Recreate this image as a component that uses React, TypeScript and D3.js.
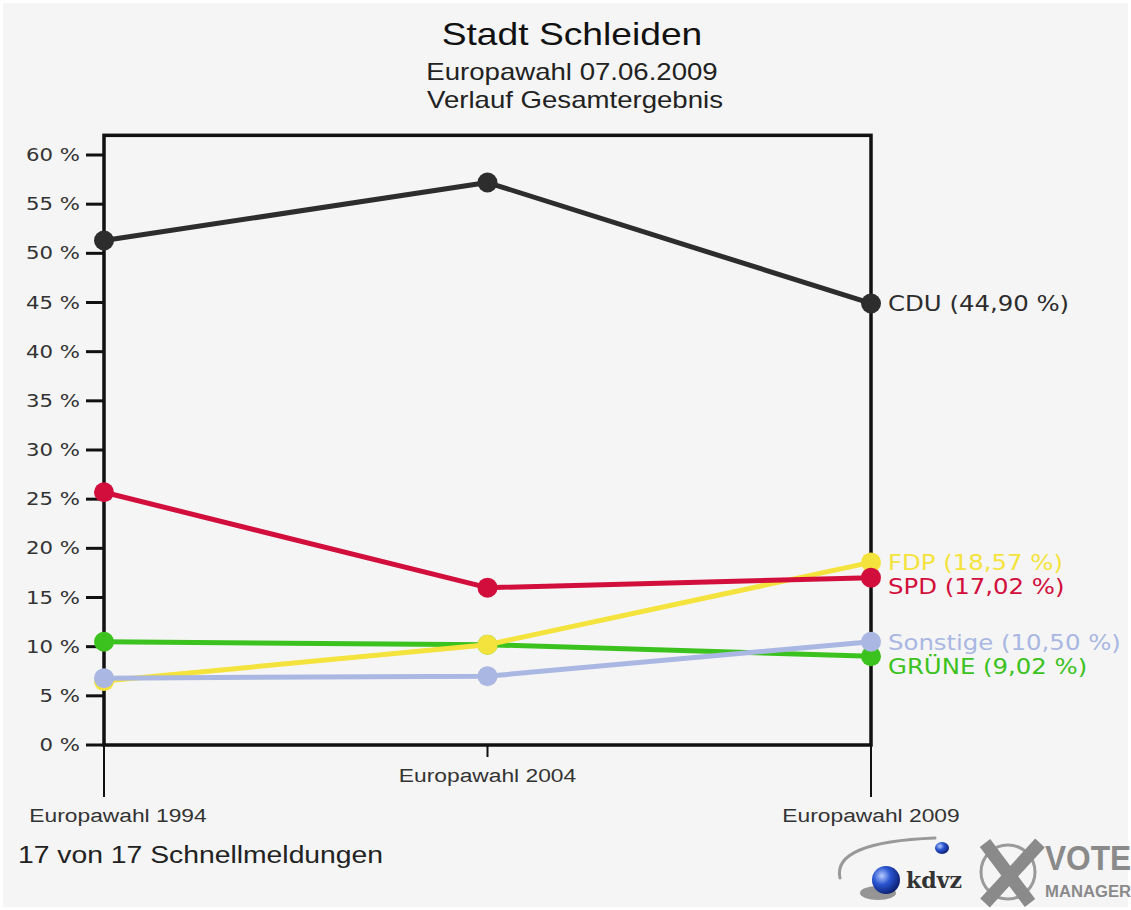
import React from "react";
import * as d3 from "d3";

// Wahlen (x-Achse)
const categories = ["Europawahl 1994", "Europawahl 2004", "Europawahl 2009"];

// Ergebnisse in Prozent, je Partei
const cduValues = [51.3, 57.2, 44.9];
const grueneValues = [10.5, 10.2, 9.02];
const fdpValues = [6.5, 10.2, 18.57];
const spdValues = [25.7, 16.0, 17.02];
const sonstigeValues = [6.8, 7.0, 10.5];

const partyNames = ["CDU", "GRÜNE", "FDP", "SPD", "Sonstige"];
const partyColors = ["#2d2d2d", "#3cc21e", "#f4e33c", "#d20f3c", "#a9b7e2"];

const yTicks = [0, 5, 10, 15, 20, 25, 30, 35, 40, 45, 50, 55, 60];

const W = 1131;
const H = 910;

// the original text is stretched horizontally
const STRETCH = 1.2;

const SText = ({ x, y, anchor = "start", size, family, fill = "#222", weight = "normal", sx = STRETCH, children }) => (
  <text
    transform={`translate(${x},${y}) scale(${sx},1)`}
    textAnchor={anchor}
    fontSize={size}
    fontFamily={family}
    fontWeight={weight}
    fill={fill}
  >
    {children}
  </text>
);

const SANS = "'Liberation Sans', Arial, sans-serif";
const DEJAVU = "'DejaVu Sans', Verdana, sans-serif";

export default function App() {
  const series = [cduValues, grueneValues, fdpValues, spdValues, sonstigeValues].map((values, i) => ({
    name: partyNames[i],
    color: partyColors[i],
    values,
  }));

  const x = d3.scalePoint().domain(categories).range([104, 871]);
  const y = d3.scaleLinear().domain([0, 60]).range([745, 155]);

  const line = d3
    .line<number>()
    .x((d, i) => x(categories[i]))
    .y((d) => y(d));

  // end labels, pushed down so they don't overlap
  const last = categories.length - 1;
  const labels = series
    .map((s) => ({ ...s, ly: y(s.values[last]) }))
    .sort((a, b) => a.ly - b.ly);
  for (let i = 1; i < labels.length; i++) {
    if (labels[i].ly - labels[i - 1].ly < 24) labels[i].ly = labels[i - 1].ly + 24;
  }

  const fmt = (v) => `${v.toFixed(2).replace(".", ",")} %`;

  const xLeft = x(categories[0]);
  const xRight = x(categories[last]);
  const yTop = y(62);
  const yBottom = y(0);

  return (
    <div>
      <style>{"body{margin:0}"}</style>
      <svg width={W} height={H} style={{ display: "block" }}>
        <defs>
          <radialGradient id="ball" cx="35%" cy="35%" r="70%">
            <stop offset="0%" stopColor="#b8ccff" />
            <stop offset="45%" stopColor="#2a55d0" />
            <stop offset="100%" stopColor="#0a1d6e" />
          </radialGradient>
        </defs>
        <rect x={0} y={0} width={W} height={H} fill="#ffffff" />
        <rect x={3} y={3} width={W - 6} height={H - 6} fill="#f5f5f5" />

        {/* title */}
        <SText x={572} y={45} anchor="middle" size={31} family={SANS} fill="#111">
          Stadt Schleiden
        </SText>
        <SText x={572} y={80} anchor="middle" size={23} family={SANS} fill="#222">
          Europawahl 07.06.2009
        </SText>
        <SText x={575} y={108} anchor="middle" size={23} family={SANS} fill="#222">
          Verlauf Gesamtergebnis
        </SText>

        {/* frame */}
        <rect
          x={xLeft}
          y={yTop}
          width={xRight - xLeft}
          height={yBottom - yTop}
          fill="none"
          stroke="#111"
          strokeWidth={3.5}
        />

        {/* y axis */}
        {yTicks.map((t) => (
          <g key={t}>
            <line x1={86} x2={xLeft} y1={y(t)} y2={y(t)} stroke="#111" strokeWidth={3} />
            <SText x={80} y={y(t) + 6} anchor="end" size={18} family={DEJAVU} fill="#333" sx={1.18}>
              {`${t} %`}
            </SText>
          </g>
        ))}

        {/* x axis */}
        {categories.map((c, i) => {
          const long = i === 0 || i === last;
          const cx = x(c);
          const labelX = i === 0 ? cx + 14 : cx;
          return (
            <g key={c}>
              <line x1={cx} x2={cx} y1={yBottom} y2={long ? 797 : 757} stroke="#111" strokeWidth={2} />
              <SText x={labelX} y={long ? 822 : 782} anchor="middle" size={19} family={SANS} fill="#333">
                {c}
              </SText>
            </g>
          );
        })}

        {/* lines and markers */}
        {series.map((s) => (
          <g key={s.name}>
            <path d={line(s.values)} fill="none" stroke={s.color} strokeWidth={5} strokeLinejoin="round" />
            {s.values.map((v, i) => (
              <circle key={i} cx={x(categories[i])} cy={y(v)} r={10} fill={s.color} />
            ))}
          </g>
        ))}

        {/* end labels */}
        {labels.map((l) => (
          <SText key={l.name} x={888} y={l.ly + 8} size={20.5} family={DEJAVU} fill={l.color} sx={1.19}>
            {`${l.name} (${fmt(l.values[last])})`}
          </SText>
        ))}

        <SText x={18} y={863} size={24} family={SANS} fill="#222" sx={1.18}>
          17 von 17 Schnellmeldungen
        </SText>

        {/* logos */}
        <g>
          <path d="M 840 878 Q 832 842 935 838" fill="none" stroke="#999" strokeWidth={3} strokeLinecap="round" />
          <ellipse cx={878} cy={893} rx={18} ry={7} fill="#555" opacity={0.6} />
          <circle cx={886} cy={880} r={14} fill="url(#ball)" />
          <ellipse cx={942} cy={848} rx={7} ry={6} fill="url(#ball)" />
          <text x={906} y={888} fontSize={22} fontWeight="bold" fontFamily="'DejaVu Serif', serif" fill="#333">
            kdvz
          </text>
          <circle cx={1008} cy={872} r={27} fill="none" stroke="#9a9a9a" strokeWidth={3} />
          <line x1={985} y1={843} x2={1030} y2={903} stroke="#8a8a8a" strokeWidth={13} />
          <line x1={1040} y1={843} x2={985} y2={903} stroke="#8a8a8a" strokeWidth={13} />
          <SText x={1045} y={870} size={36} family={SANS} weight="bold" fill="#8a8a8a" sx={0.88}>
            VOTE
          </SText>
          <SText x={1045} y={897} size={17} family={SANS} weight="bold" fill="#8a8a8a" sx={0.98}>
            MANAGER
          </SText>
        </g>
      </svg>
    </div>
  );
}
